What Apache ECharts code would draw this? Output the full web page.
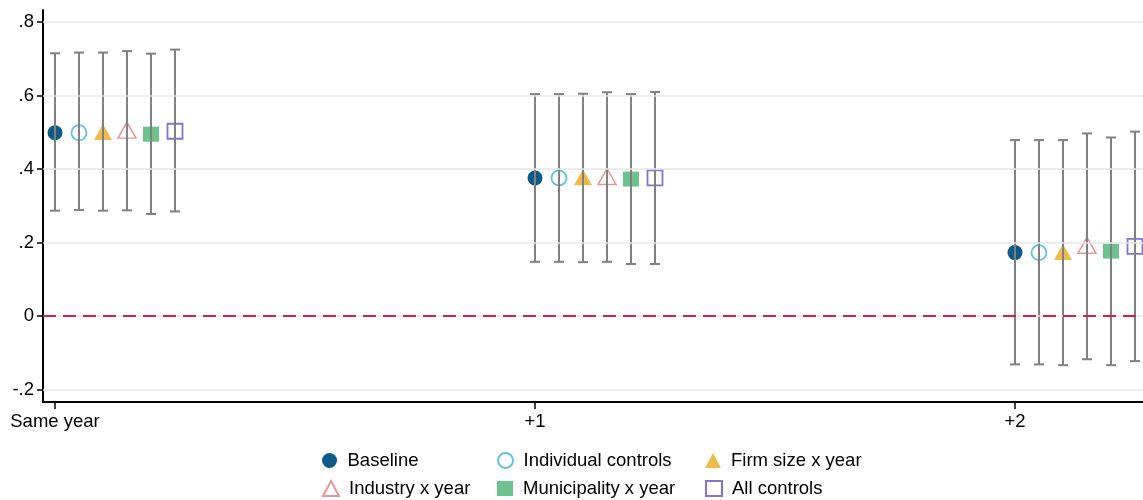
<!DOCTYPE html>
<html>
<head>
<meta charset="utf-8">
<script src="https://cdn.jsdelivr.net/npm/echarts@6/dist/echarts.min.js"></script>
<style>
html,body{margin:0;padding:0;background:#fff;}
#chart{width:1143px;height:500px;}
</style>
</head>
<body>
<div id="chart"></div>
<script>
// groups on the x axis
var groups = ['Same year', '+1', '+2'];
var models = ['Baseline', 'Individual controls', 'Firm size x year', 'Industry x year', 'Municipality x year', 'All controls'];

// point estimates, one value per group (Same year, +1, +2)
var estBaseline   = [0.499, 0.376, 0.173];
var estIndividual = [0.499, 0.376, 0.173];
var estFirm       = [0.501, 0.378, 0.175];
var estIndustry   = [0.506, 0.380, 0.193];
var estMuni       = [0.495, 0.373, 0.177];
var estAll        = [0.503, 0.376, 0.190];

// confidence interval bounds
var loBaseline   = [0.287, 0.148, -0.131];
var hiBaseline   = [0.715, 0.604, 0.479];
var loIndividual = [0.289, 0.148, -0.131];
var hiIndividual = [0.717, 0.604, 0.479];
var loFirm       = [0.287, 0.147, -0.133];
var hiFirm       = [0.717, 0.605, 0.479];
var loIndustry   = [0.288, 0.148, -0.117];
var hiIndustry   = [0.721, 0.609, 0.497];
var loMuni       = [0.278, 0.142, -0.133];
var hiMuni       = [0.714, 0.604, 0.486];
var loAll        = [0.285, 0.142, -0.122];
var hiAll        = [0.725, 0.610, 0.502];

var yTickValues = [-0.2, 0, 0.2, 0.4, 0.6, 0.8];
var yTickLabels = ['-.2', '0', '.2', '.4', '.6', '.8'];

var est = [estBaseline, estIndividual, estFirm, estIndustry, estMuni, estAll];
var lo  = [loBaseline, loIndividual, loFirm, loIndustry, loMuni, loAll];
var hi  = [hiBaseline, hiIndividual, hiFirm, hiIndustry, hiMuni, hiAll];

// marker look per model
var looks = [
  {symbol: 'circle',   size: 15,       style: {color: '#0e5a86', opacity: 1}},
  {symbol: 'circle',   size: 15,       style: {color: '#ffffff', borderColor: '#5fc1e3', borderWidth: 1.8, opacity: 1}},
  {symbol: 'triangle', size: [18, 16], style: {color: '#eebc4c', opacity: 1}},
  {symbol: 'triangle', size: [18, 16], style: {color: '#ffffff', borderColor: '#e8959a', borderWidth: 1.5, opacity: 1}},
  {symbol: 'rect',     size: [16, 15], style: {color: '#6cc38e', opacity: 1}},
  {symbol: 'rect',     size: 15,       style: {color: '#ffffff', borderColor: '#8272d2', borderWidth: 1.8, opacity: 1}}
];
var step = 0.05; // horizontal shift between models inside a group

var FONT = "'Liberation Sans', Arial, sans-serif";
var FS = 18.5;
var myChart = echarts.init(document.getElementById('chart'));

var series = [];
var ciData = [];
for (var m = 0; m < models.length; m++) {
  var pts = [];
  for (var g = 0; g < groups.length; g++) {
    var x = g + m * step;
    pts.push([x, est[m][g]]);
    ciData.push([x, lo[m][g], hi[m][g]]);
  }
  series.push({
    name: models[m],
    type: 'scatter',
    symbol: looks[m].symbol,
    symbolSize: looks[m].size,
    itemStyle: looks[m].style,
    data: pts,
    z: 2
  });
}

// gridlines + zero reference line
series.push({
  type: 'line',
  data: [],
  silent: true,
  z: 1,
  markLine: {
    silent: true,
    symbol: 'none',
    label: {show: false},
    animation: false,
    data: yTickValues.map(function (v) {
      return {yAxis: v, lineStyle: {color: '#e6e6e6', width: 1.5, type: 'solid'}};
    }).concat([{yAxis: 0, lineStyle: {color: '#d81e4a', width: 2, type: [13, 7]}}])
  }
});

// confidence intervals, drawn over the markers
series.push({
  type: 'custom',
  name: 'ci',
  z: 3,
  silent: true,
  data: ciData,
  renderItem: function (params, api) {
    var x = api.value(0);
    var top = api.coord([x, api.value(2)]);
    var bot = api.coord([x, api.value(1)]);
    var cap = 5;
    var st = {stroke: '#808080', lineWidth: 2};
    return {
      type: 'group',
      children: [
        {type: 'line', shape: {x1: top[0], y1: top[1], x2: bot[0], y2: bot[1]}, style: st},
        {type: 'line', shape: {x1: top[0] - cap, y1: top[1], x2: top[0] + cap, y2: top[1]}, style: st},
        {type: 'line', shape: {x1: bot[0] - cap, y1: bot[1], x2: bot[0] + cap, y2: bot[1]}, style: st}
      ]
    };
  }
});

// one legend per entry so the 3x2 block lines up in columns
var legendLeft = [322, 497, 705];
var legendTop = [451, 479];
var legends = [];
for (var k = 0; k < models.length; k++) {
  legends.push({
    left: legendLeft[k % 3],
    top: legendTop[Math.floor(k / 3)],
    itemWidth: 16,
    itemHeight: 15,
    padding: 0,
    selectedMode: false,
    textStyle: {fontFamily: FONT, fontSize: FS, color: '#000', padding: [0, 0, 0, 5]},
    data: [models[k]]
  });
}

var option = {
  animation: false,
  backgroundColor: '#fff',
  grid: {left: 43, right: 0, top: 10, bottom: 98, containLabel: false, outerBoundsMode: 'none'},
  legend: legends,
  xAxis: {
    type: 'value',
    min: -0.025,
    max: 2.2667,
    splitLine: {show: false},
    axisLine: {onZero: false, lineStyle: {color: '#000', width: 2}},
    axisTick: {customValues: [0, 1, 2], length: 7, lineStyle: {color: '#000', width: 1.5}},
    axisLabel: {
      customValues: [0, 1, 2],
      fontFamily: FONT, fontSize: FS, color: '#000', margin: 10,
      formatter: function (v) { return groups[Math.round(v)]; }
    }
  },
  yAxis: {
    type: 'value',
    min: -0.2332,
    max: 0.8327,
    splitLine: {show: false},
    axisLine: {show: true, onZero: false, lineStyle: {color: '#000', width: 2}},
    axisTick: {show: true, customValues: yTickValues, length: 6, lineStyle: {color: '#000', width: 1.5}},
    axisLabel: {
      customValues: yTickValues,
      fontFamily: FONT, fontSize: FS, color: '#000', margin: 9,
      formatter: function (v) {
        for (var i = 0; i < yTickValues.length; i++) {
          if (Math.abs(v - yTickValues[i]) < 1e-6) return yTickLabels[i];
        }
        return '';
      }
    }
  },
  series: series
};
myChart.setOption(option);
</script>
</body>
</html>
